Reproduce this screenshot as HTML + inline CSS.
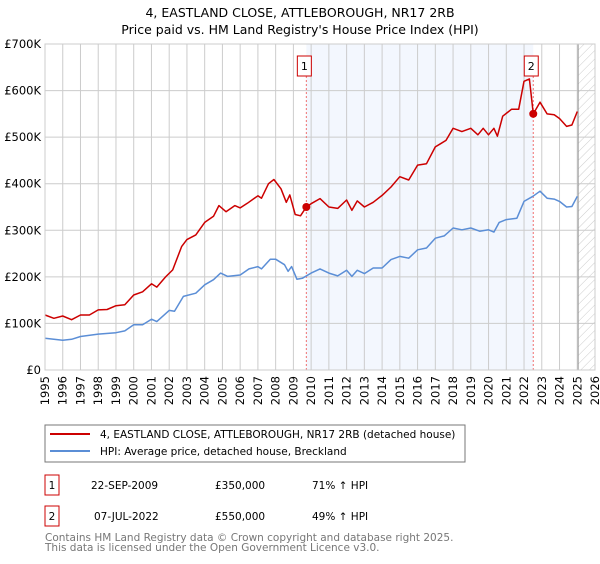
<!DOCTYPE html>
<html><head><meta charset="utf-8"><style>
body{margin:0;background:#fff;font-family:"DejaVu Sans","Liberation Sans",sans-serif;}
svg text{font-family:"DejaVu Sans","Liberation Sans",sans-serif;}
</style></head><body>
<svg id="c" width="600" height="560" xmlns="http://www.w3.org/2000/svg">
<defs><pattern id="hatch" width="6" height="6" patternUnits="userSpaceOnUse" patternTransform="rotate(45)"><line x1="0" y1="0" x2="0" y2="6" stroke="#ccc" stroke-width="1"/></pattern></defs>
<text x="300" y="17" text-anchor="middle" font-size="12.5" fill="#000">4, EASTLAND CLOSE, ATTLEBOROUGH, NR17 2RB</text>
<text x="300" y="34" text-anchor="middle" font-size="12.5" fill="#000">Price paid vs. HM Land Registry's House Price Index (HPI)</text>
<g id="plot"></g>
<rect x="45" y="425" width="420" height="37" fill="#fff" stroke="#777"/>
<line x1="50" y1="434" x2="90" y2="434" stroke="#cc0000" stroke-width="2"/>
<text x="100" y="438" font-size="10.5">4, EASTLAND CLOSE, ATTLEBOROUGH, NR17 2RB (detached house)</text>
<line x1="50" y1="451" x2="90" y2="451" stroke="#5b8ed6" stroke-width="2"/>
<text x="100" y="455" font-size="10.5">HPI: Average price, detached house, Breckland</text>
<g>
<rect x="45" y="475" width="14" height="20" fill="#fff" stroke="#cc0000"/>
<text x="52" y="489" font-size="10.5" text-anchor="middle">1</text>
<text x="91" y="489" font-size="10.5">22-SEP-2009</text>
<text x="215" y="489" font-size="10.5">£350,000</text>
<text x="312" y="489" font-size="10.5">71% ↑ HPI</text></g>
<g>
<rect x="45" y="506" width="14" height="20" fill="#fff" stroke="#cc0000"/>
<text x="52" y="520" font-size="10.5" text-anchor="middle">2</text>
<text x="94" y="520" font-size="10.5">07-JUL-2022</text>
<text x="215" y="520" font-size="10.5">£550,000</text>
<text x="312" y="520" font-size="10.5">49% ↑ HPI</text></g>
<text x="45" y="541" font-size="10.5" fill="#777">Contains HM Land Registry data © Crown copyright and database right 2025.</text>
<text x="45" y="551" font-size="10.5" fill="#777">This data is licensed under the Open Government Licence v3.0.</text>
</svg>
<script>
const yearTicks=[1995,1996,1997,1998,1999,2000,2001,2002,2003,2004,2005,2006,2007,2008,2009,2010,2011,2012,2013,2014,2015,2016,2017,2018,2019,2020,2021,2022,2023,2024,2025,2026];
const valueTicks=[0,100,200,300,400,500,600,700];
const valueLabels=["£0","£100K","£200K","£300K","£400K","£500K","£600K","£700K"];
const redYears=[1995,1995.5,1996,1996.5,1997,1997.5,1998,1998.5,1999,1999.5,2000,2000.5,2001,2001.3,2001.8,2002.2,2002.7,2003,2003.5,2004,2004.5,2004.8,2005.2,2005.7,2006,2006.4,2007,2007.2,2007.6,2007.9,2008.3,2008.6,2008.8,2009.1,2009.4,2009.73,2010,2010.5,2011,2011.5,2012,2012.3,2012.6,2013,2013.5,2014,2014.5,2015,2015.5,2016,2016.5,2017,2017.3,2017.6,2018,2018.5,2019,2019.4,2019.7,2020,2020.3,2020.5,2020.8,2021.3,2021.7,2022,2022.3,2022.52,2022.9,2023.3,2023.7,2024,2024.4,2024.7,2025];
const redValues=[118,111,116,108,118,118,129,130,138,140,161,168,185,178,200,215,265,280,290,317,330,353,340,353,348,358,374,369,400,409,389,360,376,334,331,350,357,368,350,347,365,343,363,350,360,375,393,415,408,440,443,479,486,493,519,512,519,505,519,505,519,502,545,560,560,620,625,550,575,550,548,540,523,526,555];
const blueYears=[1995,1996,1996.5,1997,1998,1999,1999.5,2000,2000.5,2001,2001.3,2002,2002.3,2002.8,2003.5,2004,2004.5,2004.9,2005.3,2006,2006.5,2007,2007.2,2007.7,2008,2008.5,2008.7,2008.9,2009.2,2009.5,2010,2010.5,2011,2011.5,2012,2012.3,2012.6,2013,2013.5,2014,2014.5,2015,2015.5,2016,2016.5,2017,2017.5,2018,2018.5,2019,2019.5,2020,2020.3,2020.6,2021,2021.6,2022,2022.5,2022.9,2023.3,2023.7,2024,2024.4,2024.7,2025];
const blueValues=[68,64,66,72,77,80,84,97,97,109,104,128,126,158,165,183,194,208,201,204,217,222,217,238,238,226,212,222,195,197,208,217,208,202,214,201,214,207,219,219,237,244,240,258,262,283,288,305,301,305,298,301,296,317,323,326,362,373,384,369,367,362,350,351,373];
const sales=[{year:2009.73,value:350,label:"1"},{year:2022.52,value:550,label:"2"}];
const shadeStart=2009.73, shadeEnd=2022.52, hatchStart=2025.05;

const L=45,R=595,T=44,B=370;
const xs=y=>L+(y-1995)/(2026-1995)*(R-L);
const ys=v=>B-v/700*(B-T);
const NS="http://www.w3.org/2000/svg";
const g=document.getElementById('plot');
function mk(tag,attrs){const e=document.createElementNS(NS,tag);for(const k in attrs)e.setAttribute(k,attrs[k]);g.appendChild(e);return e;}
let e;
e=mk('rect',{x:xs(shadeStart),y:T,width:xs(shadeEnd)-xs(shadeStart),height:B-T,fill:'#eef3fd',opacity:0.7});


e=mk('rect',{x:xs(hatchStart),y:T,width:R-xs(hatchStart),height:B-T,fill:'url(#hatch)'});


yearTicks.forEach(yr=>{
 e=mk('line',{x1:xs(yr),x2:xs(yr),y1:T,y2:B,stroke:'#ccc','stroke-width':1});
 
 
 e=mk('text',{x:0,y:0,'font-size':11.5,'text-anchor':'end',transform:`translate(${xs(yr)+4},${B+6}) rotate(-90)`});
 e.textContent=yr;
 
 
});
valueTicks.forEach((v,i)=>{
 e=mk('line',{x1:L,x2:R,y1:ys(v),y2:ys(v),stroke:'#ccc','stroke-width':1});
 
 
 e=mk('text',{x:L-4,y:ys(v)+4,'font-size':11.5,'text-anchor':'end'});
 e.textContent=valueLabels[i];
 
 
});
e=mk('line',{x1:xs(hatchStart),x2:xs(hatchStart),y1:T,y2:B,stroke:'#999','stroke-width':1});


sales.forEach(s=>{
 e=mk('line',{x1:xs(s.year),x2:xs(s.year),y1:T+20,y2:B,stroke:'#f07070','stroke-dasharray':'2,2','stroke-width':1});
 
 
});
function line(xsArr,vArr,color,name){
 const d=xsArr.map((y,i)=>(i?'L':'M')+xs(y).toFixed(1)+','+ys(vArr[i]).toFixed(1)).join('');
 e=mk('path',{d:d,fill:'none',stroke:color,'stroke-width':1.5,'stroke-linejoin':'round'});
 
 
}
line(blueYears,blueValues,'#5b8ed6','hpi-line');
line(redYears,redValues,'#cc0000','property-price-line');
sales.forEach(s=>{
 e=mk('circle',{cx:xs(s.year),cy:ys(s.value),r:4,fill:'#cc0000'});
 
 
 e=mk('rect',{x:xs(s.year)-9,y:T+12,width:14,height:20,fill:'#fff',stroke:'#cc0000'});
 
 
 e=mk('text',{x:xs(s.year)-2,y:T+26,'font-size':11,'text-anchor':'middle'});
 e.textContent=s.label;
 
 
});
e=mk('rect',{x:L,y:T,width:R-L,height:B-T,fill:'none',stroke:'#ccc'});


</script>
</body></html>
